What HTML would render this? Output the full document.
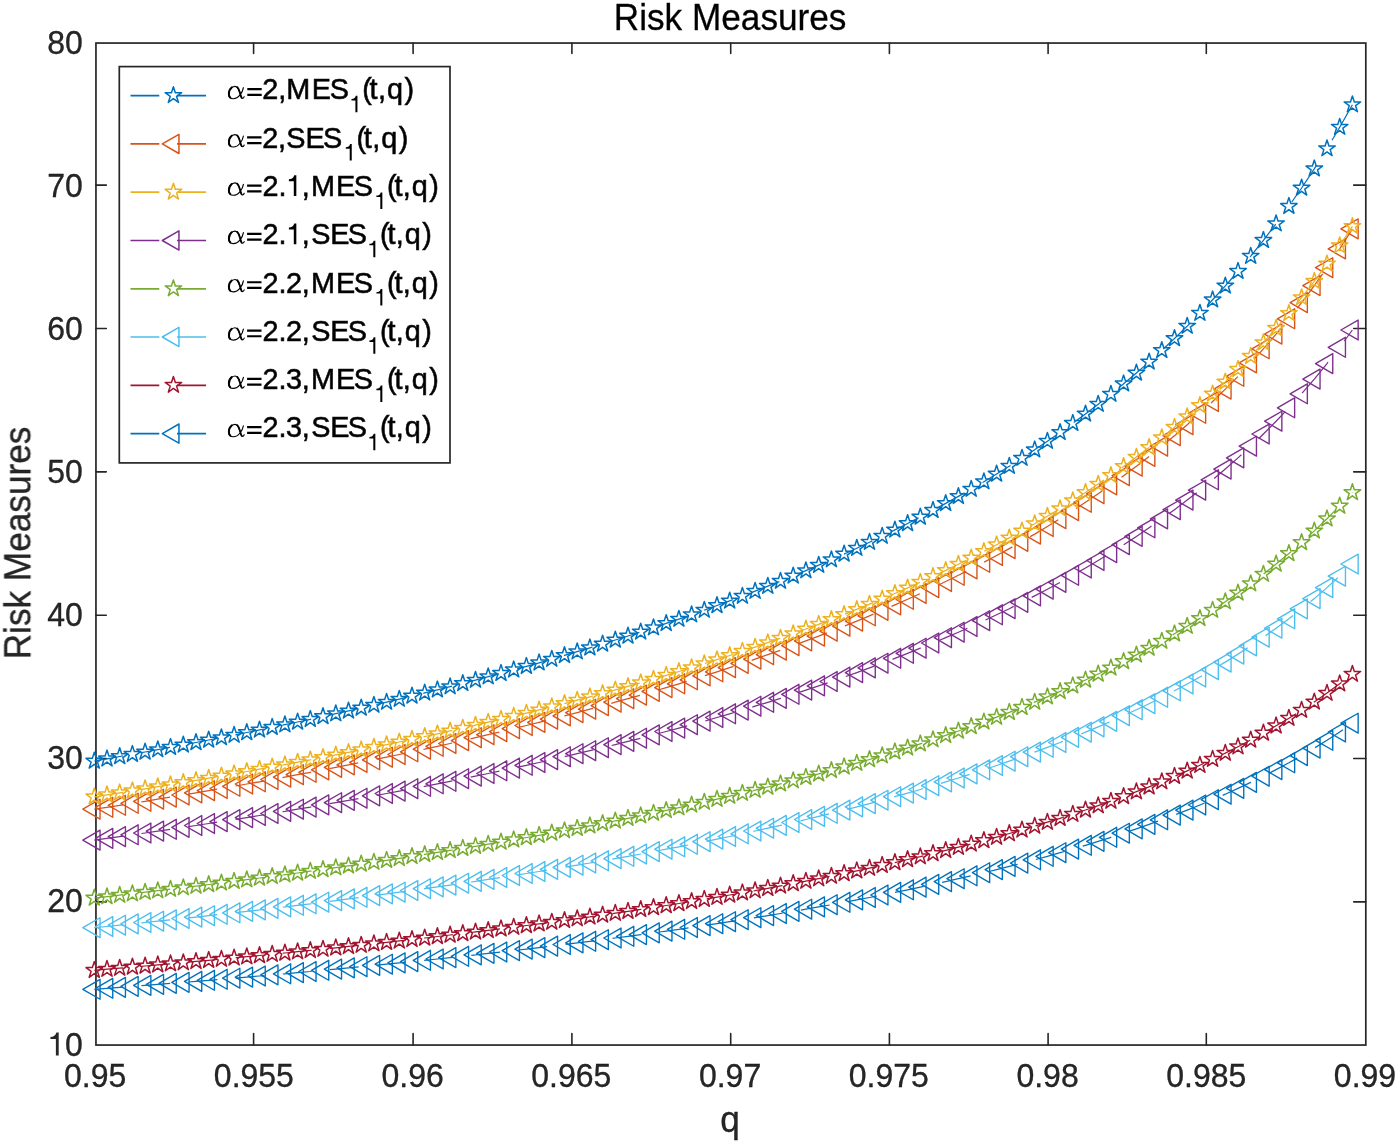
<!DOCTYPE html>
<html><head><meta charset="utf-8"><title>Risk Measures</title>
<style>html,body{margin:0;padding:0;background:#fff;}body{width:1400px;height:1144px;overflow:hidden;}svg{display:block;}text{font-family:"Liberation Sans",sans-serif;}</style>
</head><body>
<svg width="1400" height="1144" viewBox="0 0 1400 1144">
<defs>
<path id="st" d="M0.00 -8.70 L1.95 -2.69 L8.27 -2.69 L3.16 1.03 L5.11 7.04 L0.00 3.32 L-5.11 7.04 L-3.16 1.03 L-8.27 -2.69 L-1.95 -2.69Z" fill="none" stroke-width="1.50" stroke-linejoin="round"/>
<path id="tr" d="M-11.50 0 L5.75 -9.96 L5.75 9.96 Z" fill="none" stroke-width="1.38" stroke-linejoin="round"/>
<path id="trl" d="M-11.10 0 L5.55 -9.61 L5.55 9.61 Z" fill="none" stroke-width="1.50" stroke-linejoin="round"/>
</defs>
<rect x="0" y="0" width="1400" height="1144" fill="#fff"/>
<g stroke="#262626" fill="none">
<rect x="95.95" y="43.05" width="1269.85" height="1002.00" stroke-width="1.70"/>
<path d="M253.60 1045.05V1033.50M253.60 43.05V53.40M413.10 1045.05V1033.50M413.10 43.05V53.40M571.90 1045.05V1033.50M571.90 43.05V53.40M730.70 1045.05V1033.50M730.70 43.05V53.40M889.40 1045.05V1033.50M889.40 43.05V53.40M1048.10 1045.05V1033.50M1048.10 43.05V53.40M1206.30 1045.05V1033.50M1206.30 43.05V53.40M95.95 901.86H106.30M1365.80 901.86H1353.70M95.95 758.52H106.30M1365.80 758.52H1353.70M95.95 615.18H106.30M1365.80 615.18H1353.70M95.95 471.84H106.30M1365.80 471.84H1353.70M95.95 328.50H106.30M1365.80 328.50H1353.70M95.95 185.16H106.30M1365.80 185.16H1353.70" stroke-width="1.6" stroke-linecap="round"/>
</g>
<g stroke="#0072BD">
<path fill="none" stroke-width="1.25" stroke-linecap="butt" d="M94.3 761.0L107.0 758.8L119.7 756.5L123.0 755.9M141.3 752.7L145.1 752.0L157.8 749.6L170.1 747.4M188.4 743.9L196.0 742.5L208.7 740.0L217.1 738.4M235.4 734.8L246.8 732.5L259.5 729.9L264.1 729.0M282.4 725.2L284.9 724.7L297.6 722.0L310.3 719.3L311.1 719.1M329.4 715.1L335.8 713.7L348.5 710.9L358.1 708.7M376.3 704.5L386.6 702.1L399.3 699.1L405.0 697.7M423.3 693.3L424.7 692.9L437.4 689.8L450.1 686.6L452.0 686.1M470.2 681.4L475.5 680.1L488.2 676.7L498.9 673.9M517.1 668.9L526.4 666.3L539.1 662.8L545.7 660.9M564.0 655.6L564.5 655.4L577.2 651.7L589.9 647.8L592.6 647.0M610.8 641.4L615.3 640.0L628.0 636.0L639.4 632.3M657.6 626.3L666.2 623.4L678.9 619.1L686.1 616.6M704.3 610.2L704.3 610.1L717.0 605.5L729.7 600.9L732.8 599.7M750.9 592.8L755.1 591.2L767.8 586.2L779.4 581.6M797.5 574.2L805.9 570.6L818.7 565.2L825.9 562.0M844.0 554.0L844.1 554.0L856.8 548.2L869.5 542.2L872.3 540.9M890.3 532.2L894.9 529.9L907.6 523.5L918.5 517.9M936.5 508.4L945.7 503.4L958.4 496.4L964.6 492.9M982.5 482.5L983.9 481.7L996.6 474.0L1009.3 466.2L1010.5 465.4M1028.3 454.0L1034.7 449.8L1047.4 441.2L1056.1 435.2M1073.7 422.6L1085.5 413.9L1098.2 404.2L1101.3 401.8M1118.8 387.8L1123.6 383.8L1136.4 373.0L1146.0 364.6M1163.3 349.0L1174.5 338.5L1187.2 326.1L1190.2 323.1M1207.1 305.6L1212.6 299.8L1225.3 285.9L1233.5 276.5M1250.1 256.9L1250.7 256.2L1263.4 240.3L1275.7 224.2M1291.8 202.0L1301.6 188.0L1314.3 168.8L1316.5 165.2M1332.0 140.2L1339.7 127.2L1352.4 104.7"/>
<use href="#st" x="94.3" y="761.0"/>
<use href="#st" x="107.0" y="758.8"/>
<use href="#st" x="119.7" y="756.5"/>
<use href="#st" x="132.4" y="754.3"/>
<use href="#st" x="145.1" y="752.0"/>
<use href="#st" x="157.8" y="749.6"/>
<use href="#st" x="170.5" y="747.3"/>
<use href="#st" x="183.3" y="744.9"/>
<use href="#st" x="196.0" y="742.5"/>
<use href="#st" x="208.7" y="740.0"/>
<use href="#st" x="221.4" y="737.6"/>
<use href="#st" x="234.1" y="735.1"/>
<use href="#st" x="246.8" y="732.5"/>
<use href="#st" x="259.5" y="729.9"/>
<use href="#st" x="272.2" y="727.3"/>
<use href="#st" x="284.9" y="724.7"/>
<use href="#st" x="297.6" y="722.0"/>
<use href="#st" x="310.3" y="719.3"/>
<use href="#st" x="323.0" y="716.5"/>
<use href="#st" x="335.8" y="713.7"/>
<use href="#st" x="348.5" y="710.9"/>
<use href="#st" x="361.2" y="708.0"/>
<use href="#st" x="373.9" y="705.1"/>
<use href="#st" x="386.6" y="702.1"/>
<use href="#st" x="399.3" y="699.1"/>
<use href="#st" x="412.0" y="696.0"/>
<use href="#st" x="424.7" y="692.9"/>
<use href="#st" x="437.4" y="689.8"/>
<use href="#st" x="450.1" y="686.6"/>
<use href="#st" x="462.8" y="683.4"/>
<use href="#st" x="475.5" y="680.1"/>
<use href="#st" x="488.2" y="676.7"/>
<use href="#st" x="501.0" y="673.3"/>
<use href="#st" x="513.7" y="669.8"/>
<use href="#st" x="526.4" y="666.3"/>
<use href="#st" x="539.1" y="662.8"/>
<use href="#st" x="551.8" y="659.1"/>
<use href="#st" x="564.5" y="655.4"/>
<use href="#st" x="577.2" y="651.7"/>
<use href="#st" x="589.9" y="647.8"/>
<use href="#st" x="602.6" y="644.0"/>
<use href="#st" x="615.3" y="640.0"/>
<use href="#st" x="628.0" y="636.0"/>
<use href="#st" x="640.7" y="631.9"/>
<use href="#st" x="653.5" y="627.7"/>
<use href="#st" x="666.2" y="623.4"/>
<use href="#st" x="678.9" y="619.1"/>
<use href="#st" x="691.6" y="614.7"/>
<use href="#st" x="704.3" y="610.1"/>
<use href="#st" x="717.0" y="605.5"/>
<use href="#st" x="729.7" y="600.9"/>
<use href="#st" x="742.4" y="596.1"/>
<use href="#st" x="755.1" y="591.2"/>
<use href="#st" x="767.8" y="586.2"/>
<use href="#st" x="780.5" y="581.1"/>
<use href="#st" x="793.2" y="575.9"/>
<use href="#st" x="805.9" y="570.6"/>
<use href="#st" x="818.7" y="565.2"/>
<use href="#st" x="831.4" y="559.6"/>
<use href="#st" x="844.1" y="554.0"/>
<use href="#st" x="856.8" y="548.2"/>
<use href="#st" x="869.5" y="542.2"/>
<use href="#st" x="882.2" y="536.1"/>
<use href="#st" x="894.9" y="529.9"/>
<use href="#st" x="907.6" y="523.5"/>
<use href="#st" x="920.3" y="517.0"/>
<use href="#st" x="933.0" y="510.3"/>
<use href="#st" x="945.7" y="503.4"/>
<use href="#st" x="958.4" y="496.4"/>
<use href="#st" x="971.2" y="489.1"/>
<use href="#st" x="983.9" y="481.7"/>
<use href="#st" x="996.6" y="474.0"/>
<use href="#st" x="1009.3" y="466.2"/>
<use href="#st" x="1022.0" y="458.1"/>
<use href="#st" x="1034.7" y="449.8"/>
<use href="#st" x="1047.4" y="441.2"/>
<use href="#st" x="1060.1" y="432.4"/>
<use href="#st" x="1072.8" y="423.3"/>
<use href="#st" x="1085.5" y="413.9"/>
<use href="#st" x="1098.2" y="404.2"/>
<use href="#st" x="1110.9" y="394.1"/>
<use href="#st" x="1123.6" y="383.8"/>
<use href="#st" x="1136.4" y="373.0"/>
<use href="#st" x="1149.1" y="361.9"/>
<use href="#st" x="1161.8" y="350.4"/>
<use href="#st" x="1174.5" y="338.5"/>
<use href="#st" x="1187.2" y="326.1"/>
<use href="#st" x="1199.9" y="313.2"/>
<use href="#st" x="1212.6" y="299.8"/>
<use href="#st" x="1225.3" y="285.9"/>
<use href="#st" x="1238.0" y="271.3"/>
<use href="#st" x="1250.7" y="256.2"/>
<use href="#st" x="1263.4" y="240.3"/>
<use href="#st" x="1276.1" y="223.7"/>
<use href="#st" x="1288.9" y="206.3"/>
<use href="#st" x="1301.6" y="188.0"/>
<use href="#st" x="1314.3" y="168.8"/>
<use href="#st" x="1327.0" y="148.6"/>
<use href="#st" x="1339.7" y="127.2"/>
<use href="#st" x="1352.4" y="104.7"/>
</g>
<g stroke="#D95319">
<path fill="none" stroke-width="1.25" stroke-linecap="butt" d="M94.3 809.2L107.0 807.3L119.7 805.3L123.0 804.8M141.4 801.9L145.1 801.3L157.8 799.2L170.1 797.2M188.4 794.1L196.0 792.9L208.7 790.7L217.2 789.2M235.5 786.0L246.8 784.0L259.5 781.8L264.2 780.9M282.5 777.6L284.9 777.1L297.6 774.7L310.3 772.3L311.2 772.2M329.5 768.6L335.8 767.4L348.5 764.9L358.2 762.9M376.5 759.2L386.6 757.2L399.3 754.5L405.2 753.2M423.5 749.3L424.7 749.1L437.4 746.3L450.1 743.5L452.2 743.0M470.5 738.8L475.5 737.7L488.2 734.7L499.2 732.1M517.5 727.7L526.4 725.5L539.1 722.4L546.1 720.6M564.4 715.9L564.5 715.9L577.2 712.6L589.9 709.2L593.0 708.3M611.3 703.4L615.3 702.2L628.0 698.7L639.9 695.3M658.1 690.0L666.2 687.6L678.9 683.8L686.7 681.3M704.9 675.6L717.0 671.8L729.7 667.6L733.5 666.4M751.7 660.3L755.1 659.1L767.8 654.7L780.2 650.3M798.4 643.7L805.9 640.9L818.7 636.1L826.9 632.9M845.0 625.8L856.8 621.1L869.5 615.8L873.4 614.1M891.5 606.4L894.9 604.9L907.6 599.3L919.9 593.7M937.9 585.2L945.7 581.5L958.4 575.3L966.2 571.4M984.2 562.1L996.6 555.5L1009.3 548.6L1012.3 546.9M1030.2 536.6L1034.7 534.1L1047.4 526.5L1058.2 519.8M1076.0 508.5L1085.5 502.3L1098.2 493.7L1103.8 489.8M1121.5 477.3L1123.6 475.7L1136.4 466.2L1149.0 456.4M1166.5 442.3L1174.5 435.7L1187.2 424.7L1193.7 418.8M1211.0 403.0L1212.6 401.5L1225.3 389.1L1237.8 376.6M1254.6 358.5L1263.4 348.8L1276.1 334.1L1280.8 328.5M1297.3 308.1L1301.6 302.6L1314.3 285.6L1322.6 273.9M1338.4 250.7L1339.7 248.9L1352.4 228.9"/>
<use href="#tr" x="94.3" y="809.2"/>
<use href="#tr" x="107.0" y="807.3"/>
<use href="#tr" x="119.7" y="805.3"/>
<use href="#tr" x="132.4" y="803.3"/>
<use href="#tr" x="145.1" y="801.3"/>
<use href="#tr" x="157.8" y="799.2"/>
<use href="#tr" x="170.5" y="797.1"/>
<use href="#tr" x="183.3" y="795.0"/>
<use href="#tr" x="196.0" y="792.9"/>
<use href="#tr" x="208.7" y="790.7"/>
<use href="#tr" x="221.4" y="788.5"/>
<use href="#tr" x="234.1" y="786.3"/>
<use href="#tr" x="246.8" y="784.0"/>
<use href="#tr" x="259.5" y="781.8"/>
<use href="#tr" x="272.2" y="779.5"/>
<use href="#tr" x="284.9" y="777.1"/>
<use href="#tr" x="297.6" y="774.7"/>
<use href="#tr" x="310.3" y="772.3"/>
<use href="#tr" x="323.0" y="769.9"/>
<use href="#tr" x="335.8" y="767.4"/>
<use href="#tr" x="348.5" y="764.9"/>
<use href="#tr" x="361.2" y="762.4"/>
<use href="#tr" x="373.9" y="759.8"/>
<use href="#tr" x="386.6" y="757.2"/>
<use href="#tr" x="399.3" y="754.5"/>
<use href="#tr" x="412.0" y="751.8"/>
<use href="#tr" x="424.7" y="749.1"/>
<use href="#tr" x="437.4" y="746.3"/>
<use href="#tr" x="450.1" y="743.5"/>
<use href="#tr" x="462.8" y="740.6"/>
<use href="#tr" x="475.5" y="737.7"/>
<use href="#tr" x="488.2" y="734.7"/>
<use href="#tr" x="501.0" y="731.7"/>
<use href="#tr" x="513.7" y="728.6"/>
<use href="#tr" x="526.4" y="725.5"/>
<use href="#tr" x="539.1" y="722.4"/>
<use href="#tr" x="551.8" y="719.2"/>
<use href="#tr" x="564.5" y="715.9"/>
<use href="#tr" x="577.2" y="712.6"/>
<use href="#tr" x="589.9" y="709.2"/>
<use href="#tr" x="602.6" y="705.7"/>
<use href="#tr" x="615.3" y="702.2"/>
<use href="#tr" x="628.0" y="698.7"/>
<use href="#tr" x="640.7" y="695.1"/>
<use href="#tr" x="653.5" y="691.4"/>
<use href="#tr" x="666.2" y="687.6"/>
<use href="#tr" x="678.9" y="683.8"/>
<use href="#tr" x="691.6" y="679.8"/>
<use href="#tr" x="704.3" y="675.9"/>
<use href="#tr" x="717.0" y="671.8"/>
<use href="#tr" x="729.7" y="667.6"/>
<use href="#tr" x="742.4" y="663.4"/>
<use href="#tr" x="755.1" y="659.1"/>
<use href="#tr" x="767.8" y="654.7"/>
<use href="#tr" x="780.5" y="650.2"/>
<use href="#tr" x="793.2" y="645.6"/>
<use href="#tr" x="805.9" y="640.9"/>
<use href="#tr" x="818.7" y="636.1"/>
<use href="#tr" x="831.4" y="631.2"/>
<use href="#tr" x="844.1" y="626.2"/>
<use href="#tr" x="856.8" y="621.1"/>
<use href="#tr" x="869.5" y="615.8"/>
<use href="#tr" x="882.2" y="610.4"/>
<use href="#tr" x="894.9" y="604.9"/>
<use href="#tr" x="907.6" y="599.3"/>
<use href="#tr" x="920.3" y="593.5"/>
<use href="#tr" x="933.0" y="587.6"/>
<use href="#tr" x="945.7" y="581.5"/>
<use href="#tr" x="958.4" y="575.3"/>
<use href="#tr" x="971.2" y="568.9"/>
<use href="#tr" x="983.9" y="562.3"/>
<use href="#tr" x="996.6" y="555.5"/>
<use href="#tr" x="1009.3" y="548.6"/>
<use href="#tr" x="1022.0" y="541.4"/>
<use href="#tr" x="1034.7" y="534.1"/>
<use href="#tr" x="1047.4" y="526.5"/>
<use href="#tr" x="1060.1" y="518.7"/>
<use href="#tr" x="1072.8" y="510.6"/>
<use href="#tr" x="1085.5" y="502.3"/>
<use href="#tr" x="1098.2" y="493.7"/>
<use href="#tr" x="1110.9" y="484.9"/>
<use href="#tr" x="1123.6" y="475.7"/>
<use href="#tr" x="1136.4" y="466.2"/>
<use href="#tr" x="1149.1" y="456.4"/>
<use href="#tr" x="1161.8" y="446.2"/>
<use href="#tr" x="1174.5" y="435.7"/>
<use href="#tr" x="1187.2" y="424.7"/>
<use href="#tr" x="1199.9" y="413.3"/>
<use href="#tr" x="1212.6" y="401.5"/>
<use href="#tr" x="1225.3" y="389.1"/>
<use href="#tr" x="1238.0" y="376.3"/>
<use href="#tr" x="1250.7" y="362.9"/>
<use href="#tr" x="1263.4" y="348.8"/>
<use href="#tr" x="1276.1" y="334.1"/>
<use href="#tr" x="1288.9" y="318.8"/>
<use href="#tr" x="1301.6" y="302.6"/>
<use href="#tr" x="1314.3" y="285.6"/>
<use href="#tr" x="1327.0" y="267.7"/>
<use href="#tr" x="1339.7" y="248.9"/>
<use href="#tr" x="1352.4" y="228.9"/>
</g>
<g stroke="#EDB120">
<path fill="none" stroke-width="1.25" stroke-linecap="butt" d="M94.3 796.8L107.0 794.8L119.7 792.8L123.0 792.3M141.4 789.4L145.1 788.8L157.8 786.7L170.1 784.7M188.4 781.6L196.0 780.4L208.7 778.2L217.2 776.7M235.5 773.5L246.8 771.5L259.5 769.2L264.2 768.4M282.5 765.0L284.9 764.6L297.6 762.2L310.3 759.8L311.2 759.6M329.5 756.1L335.8 754.9L348.5 752.4L358.2 750.4M376.5 746.7L386.6 744.6L399.3 742.0L405.2 740.7M423.5 736.8L424.7 736.5L437.4 733.8L450.1 730.9L452.2 730.5M470.5 726.3L475.5 725.2L488.2 722.2L499.2 719.6M517.5 715.2L526.4 713.1L539.1 709.9L546.1 708.2M564.4 703.5L564.5 703.5L577.2 700.2L589.9 696.8L593.0 696.0M611.3 691.0L615.3 689.9L628.0 686.4L639.9 683.0M658.1 677.7L666.2 675.3L678.9 671.5L686.7 669.1M705.0 663.5L717.0 659.6L729.7 655.5L733.5 654.3M751.7 648.2L755.1 647.1L767.8 642.7L780.2 638.3M798.4 631.8L805.9 629.0L818.7 624.3L826.9 621.1M845.0 614.1L856.8 609.4L869.5 604.2L873.5 602.6M891.6 594.9L894.9 593.5L907.6 587.9L919.9 582.4M938.0 574.0L945.7 570.4L958.4 564.2L966.3 560.3M984.3 551.2L996.6 544.8L1009.3 537.9L1012.4 536.2M1030.3 526.1L1034.7 523.7L1047.4 516.2L1058.4 509.6M1076.2 498.5L1085.5 492.5L1098.2 484.1L1104.0 480.1M1121.7 467.8L1123.6 466.4L1136.4 457.1L1149.1 447.5L1149.3 447.3M1166.8 433.5L1174.5 427.3L1187.2 416.6L1194.1 410.5M1211.4 395.0L1212.6 393.9L1225.3 381.9L1238.0 369.3L1238.3 369.1M1255.2 351.4L1263.4 342.6L1276.1 328.3L1281.5 322.0M1298.0 302.1L1301.6 297.7L1314.3 281.3L1323.5 268.6M1339.5 245.9L1339.7 245.7L1352.4 226.4"/>
<use href="#st" x="94.3" y="796.8"/>
<use href="#st" x="107.0" y="794.8"/>
<use href="#st" x="119.7" y="792.8"/>
<use href="#st" x="132.4" y="790.8"/>
<use href="#st" x="145.1" y="788.8"/>
<use href="#st" x="157.8" y="786.7"/>
<use href="#st" x="170.5" y="784.6"/>
<use href="#st" x="183.3" y="782.5"/>
<use href="#st" x="196.0" y="780.4"/>
<use href="#st" x="208.7" y="778.2"/>
<use href="#st" x="221.4" y="776.0"/>
<use href="#st" x="234.1" y="773.8"/>
<use href="#st" x="246.8" y="771.5"/>
<use href="#st" x="259.5" y="769.2"/>
<use href="#st" x="272.2" y="766.9"/>
<use href="#st" x="284.9" y="764.6"/>
<use href="#st" x="297.6" y="762.2"/>
<use href="#st" x="310.3" y="759.8"/>
<use href="#st" x="323.0" y="757.4"/>
<use href="#st" x="335.8" y="754.9"/>
<use href="#st" x="348.5" y="752.4"/>
<use href="#st" x="361.2" y="749.8"/>
<use href="#st" x="373.9" y="747.2"/>
<use href="#st" x="386.6" y="744.6"/>
<use href="#st" x="399.3" y="742.0"/>
<use href="#st" x="412.0" y="739.3"/>
<use href="#st" x="424.7" y="736.5"/>
<use href="#st" x="437.4" y="733.8"/>
<use href="#st" x="450.1" y="730.9"/>
<use href="#st" x="462.8" y="728.1"/>
<use href="#st" x="475.5" y="725.2"/>
<use href="#st" x="488.2" y="722.2"/>
<use href="#st" x="501.0" y="719.2"/>
<use href="#st" x="513.7" y="716.2"/>
<use href="#st" x="526.4" y="713.1"/>
<use href="#st" x="539.1" y="709.9"/>
<use href="#st" x="551.8" y="706.7"/>
<use href="#st" x="564.5" y="703.5"/>
<use href="#st" x="577.2" y="700.2"/>
<use href="#st" x="589.9" y="696.8"/>
<use href="#st" x="602.6" y="693.4"/>
<use href="#st" x="615.3" y="689.9"/>
<use href="#st" x="628.0" y="686.4"/>
<use href="#st" x="640.7" y="682.7"/>
<use href="#st" x="653.5" y="679.1"/>
<use href="#st" x="666.2" y="675.3"/>
<use href="#st" x="678.9" y="671.5"/>
<use href="#st" x="691.6" y="667.6"/>
<use href="#st" x="704.3" y="663.7"/>
<use href="#st" x="717.0" y="659.6"/>
<use href="#st" x="729.7" y="655.5"/>
<use href="#st" x="742.4" y="651.3"/>
<use href="#st" x="755.1" y="647.1"/>
<use href="#st" x="767.8" y="642.7"/>
<use href="#st" x="780.5" y="638.2"/>
<use href="#st" x="793.2" y="633.7"/>
<use href="#st" x="805.9" y="629.0"/>
<use href="#st" x="818.7" y="624.3"/>
<use href="#st" x="831.4" y="619.4"/>
<use href="#st" x="844.1" y="614.5"/>
<use href="#st" x="856.8" y="609.4"/>
<use href="#st" x="869.5" y="604.2"/>
<use href="#st" x="882.2" y="598.9"/>
<use href="#st" x="894.9" y="593.5"/>
<use href="#st" x="907.6" y="587.9"/>
<use href="#st" x="920.3" y="582.2"/>
<use href="#st" x="933.0" y="576.4"/>
<use href="#st" x="945.7" y="570.4"/>
<use href="#st" x="958.4" y="564.2"/>
<use href="#st" x="971.2" y="557.9"/>
<use href="#st" x="983.9" y="551.4"/>
<use href="#st" x="996.6" y="544.8"/>
<use href="#st" x="1009.3" y="537.9"/>
<use href="#st" x="1022.0" y="530.9"/>
<use href="#st" x="1034.7" y="523.7"/>
<use href="#st" x="1047.4" y="516.2"/>
<use href="#st" x="1060.1" y="508.6"/>
<use href="#st" x="1072.8" y="500.6"/>
<use href="#st" x="1085.5" y="492.5"/>
<use href="#st" x="1098.2" y="484.1"/>
<use href="#st" x="1110.9" y="475.4"/>
<use href="#st" x="1123.6" y="466.4"/>
<use href="#st" x="1136.4" y="457.1"/>
<use href="#st" x="1149.1" y="447.5"/>
<use href="#st" x="1161.8" y="437.6"/>
<use href="#st" x="1174.5" y="427.3"/>
<use href="#st" x="1187.2" y="416.6"/>
<use href="#st" x="1199.9" y="405.5"/>
<use href="#st" x="1212.6" y="393.9"/>
<use href="#st" x="1225.3" y="381.9"/>
<use href="#st" x="1238.0" y="369.3"/>
<use href="#st" x="1250.7" y="356.3"/>
<use href="#st" x="1263.4" y="342.6"/>
<use href="#st" x="1276.1" y="328.3"/>
<use href="#st" x="1288.9" y="313.4"/>
<use href="#st" x="1301.6" y="297.7"/>
<use href="#st" x="1314.3" y="281.3"/>
<use href="#st" x="1327.0" y="263.9"/>
<use href="#st" x="1339.7" y="245.7"/>
<use href="#st" x="1352.4" y="226.4"/>
</g>
<g stroke="#7E2F8E">
<path fill="none" stroke-width="1.25" stroke-linecap="butt" d="M94.3 840.1L107.0 838.4L119.7 836.6L123.1 836.1M141.4 833.5L145.1 833.0L157.8 831.1L170.1 829.3M188.5 826.6L196.0 825.5L208.7 823.5L217.2 822.2M235.5 819.3L246.8 817.6L259.5 815.5L264.3 814.7M282.6 811.7L284.9 811.4L297.6 809.2L310.3 807.1L311.3 806.9M329.6 803.7L335.8 802.7L348.5 800.4L358.4 798.7M376.7 795.3L386.6 793.5L399.3 791.1L405.4 790.0M423.7 786.5L424.7 786.3L437.4 783.8L450.1 781.3L452.4 780.8M470.7 777.1L475.5 776.1L488.2 773.5L499.4 771.1M517.7 767.2L526.4 765.3L539.1 762.5L546.4 760.8M564.7 756.7L577.2 753.7L589.9 750.7L593.4 749.9M611.6 745.5L615.3 744.6L628.0 741.4L640.3 738.3M658.6 733.5L666.2 731.5L678.9 728.1L687.2 725.9M705.4 720.8L717.0 717.5L729.7 713.8L734.0 712.5M752.3 707.1L755.1 706.2L767.8 702.3L780.5 698.4L780.9 698.3M799.1 692.4L805.9 690.1L818.7 685.9L827.6 682.8M845.8 676.5L856.8 672.6L869.5 667.9L874.3 666.1M892.5 659.3L894.9 658.3L907.6 653.3L920.3 648.2L920.9 648.0M939.0 640.5L945.7 637.7L958.4 632.2L967.4 628.2M985.5 620.0L996.6 614.8L1009.3 608.7L1013.7 606.4M1031.7 597.4L1034.7 595.9L1047.4 589.2L1059.9 582.5M1077.8 572.4L1085.5 568.0L1098.2 560.5L1105.9 555.8M1123.7 544.7L1136.4 536.4L1149.1 527.8L1151.5 526.1M1169.1 513.6L1174.5 509.7L1187.2 500.1L1196.7 492.7M1214.2 478.5L1225.3 469.1L1238.0 457.9L1241.4 454.8M1258.6 438.7L1263.4 434.0L1276.1 421.2L1285.2 411.6M1302.1 393.2L1314.3 379.1L1327.0 363.6L1328.0 362.2M1344.3 341.0L1352.4 330.0"/>
<use href="#tr" x="94.3" y="840.1"/>
<use href="#tr" x="107.0" y="838.4"/>
<use href="#tr" x="119.7" y="836.6"/>
<use href="#tr" x="132.4" y="834.8"/>
<use href="#tr" x="145.1" y="833.0"/>
<use href="#tr" x="157.8" y="831.1"/>
<use href="#tr" x="170.5" y="829.3"/>
<use href="#tr" x="183.3" y="827.4"/>
<use href="#tr" x="196.0" y="825.5"/>
<use href="#tr" x="208.7" y="823.5"/>
<use href="#tr" x="221.4" y="821.6"/>
<use href="#tr" x="234.1" y="819.6"/>
<use href="#tr" x="246.8" y="817.6"/>
<use href="#tr" x="259.5" y="815.5"/>
<use href="#tr" x="272.2" y="813.5"/>
<use href="#tr" x="284.9" y="811.4"/>
<use href="#tr" x="297.6" y="809.2"/>
<use href="#tr" x="310.3" y="807.1"/>
<use href="#tr" x="323.0" y="804.9"/>
<use href="#tr" x="335.8" y="802.7"/>
<use href="#tr" x="348.5" y="800.4"/>
<use href="#tr" x="361.2" y="798.2"/>
<use href="#tr" x="373.9" y="795.9"/>
<use href="#tr" x="386.6" y="793.5"/>
<use href="#tr" x="399.3" y="791.1"/>
<use href="#tr" x="412.0" y="788.7"/>
<use href="#tr" x="424.7" y="786.3"/>
<use href="#tr" x="437.4" y="783.8"/>
<use href="#tr" x="450.1" y="781.3"/>
<use href="#tr" x="462.8" y="778.7"/>
<use href="#tr" x="475.5" y="776.1"/>
<use href="#tr" x="488.2" y="773.5"/>
<use href="#tr" x="501.0" y="770.8"/>
<use href="#tr" x="513.7" y="768.1"/>
<use href="#tr" x="526.4" y="765.3"/>
<use href="#tr" x="539.1" y="762.5"/>
<use href="#tr" x="551.8" y="759.6"/>
<use href="#tr" x="564.5" y="756.7"/>
<use href="#tr" x="577.2" y="753.7"/>
<use href="#tr" x="589.9" y="750.7"/>
<use href="#tr" x="602.6" y="747.7"/>
<use href="#tr" x="615.3" y="744.6"/>
<use href="#tr" x="628.0" y="741.4"/>
<use href="#tr" x="640.7" y="738.2"/>
<use href="#tr" x="653.5" y="734.9"/>
<use href="#tr" x="666.2" y="731.5"/>
<use href="#tr" x="678.9" y="728.1"/>
<use href="#tr" x="691.6" y="724.7"/>
<use href="#tr" x="704.3" y="721.1"/>
<use href="#tr" x="717.0" y="717.5"/>
<use href="#tr" x="729.7" y="713.8"/>
<use href="#tr" x="742.4" y="710.1"/>
<use href="#tr" x="755.1" y="706.2"/>
<use href="#tr" x="767.8" y="702.3"/>
<use href="#tr" x="780.5" y="698.4"/>
<use href="#tr" x="793.2" y="694.3"/>
<use href="#tr" x="805.9" y="690.1"/>
<use href="#tr" x="818.7" y="685.9"/>
<use href="#tr" x="831.4" y="681.5"/>
<use href="#tr" x="844.1" y="677.1"/>
<use href="#tr" x="856.8" y="672.6"/>
<use href="#tr" x="869.5" y="667.9"/>
<use href="#tr" x="882.2" y="663.2"/>
<use href="#tr" x="894.9" y="658.3"/>
<use href="#tr" x="907.6" y="653.3"/>
<use href="#tr" x="920.3" y="648.2"/>
<use href="#tr" x="933.0" y="643.0"/>
<use href="#tr" x="945.7" y="637.7"/>
<use href="#tr" x="958.4" y="632.2"/>
<use href="#tr" x="971.2" y="626.5"/>
<use href="#tr" x="983.9" y="620.7"/>
<use href="#tr" x="996.6" y="614.8"/>
<use href="#tr" x="1009.3" y="608.7"/>
<use href="#tr" x="1022.0" y="602.4"/>
<use href="#tr" x="1034.7" y="595.9"/>
<use href="#tr" x="1047.4" y="589.2"/>
<use href="#tr" x="1060.1" y="582.4"/>
<use href="#tr" x="1072.8" y="575.3"/>
<use href="#tr" x="1085.5" y="568.0"/>
<use href="#tr" x="1098.2" y="560.5"/>
<use href="#tr" x="1110.9" y="552.7"/>
<use href="#tr" x="1123.6" y="544.7"/>
<use href="#tr" x="1136.4" y="536.4"/>
<use href="#tr" x="1149.1" y="527.8"/>
<use href="#tr" x="1161.8" y="518.9"/>
<use href="#tr" x="1174.5" y="509.7"/>
<use href="#tr" x="1187.2" y="500.1"/>
<use href="#tr" x="1199.9" y="490.2"/>
<use href="#tr" x="1212.6" y="479.8"/>
<use href="#tr" x="1225.3" y="469.1"/>
<use href="#tr" x="1238.0" y="457.9"/>
<use href="#tr" x="1250.7" y="446.2"/>
<use href="#tr" x="1263.4" y="434.0"/>
<use href="#tr" x="1276.1" y="421.2"/>
<use href="#tr" x="1288.9" y="407.8"/>
<use href="#tr" x="1301.6" y="393.8"/>
<use href="#tr" x="1314.3" y="379.1"/>
<use href="#tr" x="1327.0" y="363.6"/>
<use href="#tr" x="1339.7" y="347.3"/>
<use href="#tr" x="1352.4" y="330.0"/>
</g>
<g stroke="#77AC30">
<path fill="none" stroke-width="1.25" stroke-linecap="butt" d="M94.3 898.0L107.0 896.6L119.7 895.1L123.1 894.7M141.4 892.6L145.1 892.2L157.8 890.7L170.2 889.2M188.5 887.0L196.0 886.1L208.7 884.5L217.3 883.4M235.6 881.1L246.8 879.7L259.5 878.0L264.4 877.4M282.7 875.0L284.9 874.7L297.6 873.0L310.3 871.2L311.5 871.1M329.8 868.5L335.8 867.7L348.5 865.9L358.6 864.4M376.9 861.7L386.6 860.3L399.3 858.4L405.6 857.4M424.0 854.6L424.7 854.4L437.4 852.4L450.1 850.4L452.7 850.0M471.0 847.0L475.5 846.3L488.2 844.1L499.8 842.2M518.1 839.0L526.4 837.5L539.1 835.3L546.8 833.9M565.1 830.5L577.2 828.3L589.9 825.8L593.8 825.1M612.1 821.5L615.3 820.9L628.0 818.3L640.7 815.7L640.8 815.7M659.1 811.9L666.2 810.4L678.9 807.7L687.8 805.7M706.1 801.6L717.0 799.2L729.7 796.2L734.8 795.0M753.1 790.6L755.1 790.2L767.8 787.0L780.5 783.8L781.7 783.5M800.0 778.8L805.9 777.3L818.7 773.9L828.6 771.1M846.9 766.0L856.8 763.2L869.5 759.5L875.5 757.7M893.7 752.2L894.9 751.8L907.6 747.9L920.3 743.8L922.3 743.2M940.5 737.1L945.7 735.4L958.4 731.0L969.0 727.2M987.2 720.6L996.6 717.1L1009.3 712.3L1015.6 709.8M1033.8 702.5L1034.7 702.1L1047.4 696.8L1060.1 691.4L1062.2 690.5M1080.2 682.4L1085.5 680.0L1098.2 674.0L1108.5 669.0M1126.5 660.0L1136.4 654.9L1149.1 648.1L1154.7 645.0M1172.6 634.9L1174.5 633.8L1187.2 626.2L1199.9 618.4L1200.6 617.9M1218.4 606.4L1225.3 601.7L1238.0 592.9L1246.1 587.0M1263.7 573.9L1276.1 564.0L1288.9 553.5L1291.1 551.6M1308.4 536.3L1314.3 530.9L1327.0 518.8L1335.3 510.4M1352.2 492.7L1352.4 492.5"/>
<use href="#st" x="94.3" y="898.0"/>
<use href="#st" x="107.0" y="896.6"/>
<use href="#st" x="119.7" y="895.1"/>
<use href="#st" x="132.4" y="893.7"/>
<use href="#st" x="145.1" y="892.2"/>
<use href="#st" x="157.8" y="890.7"/>
<use href="#st" x="170.5" y="889.2"/>
<use href="#st" x="183.3" y="887.6"/>
<use href="#st" x="196.0" y="886.1"/>
<use href="#st" x="208.7" y="884.5"/>
<use href="#st" x="221.4" y="882.9"/>
<use href="#st" x="234.1" y="881.3"/>
<use href="#st" x="246.8" y="879.7"/>
<use href="#st" x="259.5" y="878.0"/>
<use href="#st" x="272.2" y="876.4"/>
<use href="#st" x="284.9" y="874.7"/>
<use href="#st" x="297.6" y="873.0"/>
<use href="#st" x="310.3" y="871.2"/>
<use href="#st" x="323.0" y="869.5"/>
<use href="#st" x="335.8" y="867.7"/>
<use href="#st" x="348.5" y="865.9"/>
<use href="#st" x="361.2" y="864.0"/>
<use href="#st" x="373.9" y="862.2"/>
<use href="#st" x="386.6" y="860.3"/>
<use href="#st" x="399.3" y="858.4"/>
<use href="#st" x="412.0" y="856.4"/>
<use href="#st" x="424.7" y="854.4"/>
<use href="#st" x="437.4" y="852.4"/>
<use href="#st" x="450.1" y="850.4"/>
<use href="#st" x="462.8" y="848.3"/>
<use href="#st" x="475.5" y="846.3"/>
<use href="#st" x="488.2" y="844.1"/>
<use href="#st" x="501.0" y="842.0"/>
<use href="#st" x="513.7" y="839.8"/>
<use href="#st" x="526.4" y="837.5"/>
<use href="#st" x="539.1" y="835.3"/>
<use href="#st" x="551.8" y="833.0"/>
<use href="#st" x="564.5" y="830.6"/>
<use href="#st" x="577.2" y="828.3"/>
<use href="#st" x="589.9" y="825.8"/>
<use href="#st" x="602.6" y="823.4"/>
<use href="#st" x="615.3" y="820.9"/>
<use href="#st" x="628.0" y="818.3"/>
<use href="#st" x="640.7" y="815.7"/>
<use href="#st" x="653.5" y="813.1"/>
<use href="#st" x="666.2" y="810.4"/>
<use href="#st" x="678.9" y="807.7"/>
<use href="#st" x="691.6" y="804.9"/>
<use href="#st" x="704.3" y="802.1"/>
<use href="#st" x="717.0" y="799.2"/>
<use href="#st" x="729.7" y="796.2"/>
<use href="#st" x="742.4" y="793.2"/>
<use href="#st" x="755.1" y="790.2"/>
<use href="#st" x="767.8" y="787.0"/>
<use href="#st" x="780.5" y="783.8"/>
<use href="#st" x="793.2" y="780.6"/>
<use href="#st" x="805.9" y="777.3"/>
<use href="#st" x="818.7" y="773.9"/>
<use href="#st" x="831.4" y="770.4"/>
<use href="#st" x="844.1" y="766.8"/>
<use href="#st" x="856.8" y="763.2"/>
<use href="#st" x="869.5" y="759.5"/>
<use href="#st" x="882.2" y="755.7"/>
<use href="#st" x="894.9" y="751.8"/>
<use href="#st" x="907.6" y="747.9"/>
<use href="#st" x="920.3" y="743.8"/>
<use href="#st" x="933.0" y="739.6"/>
<use href="#st" x="945.7" y="735.4"/>
<use href="#st" x="958.4" y="731.0"/>
<use href="#st" x="971.2" y="726.5"/>
<use href="#st" x="983.9" y="721.9"/>
<use href="#st" x="996.6" y="717.1"/>
<use href="#st" x="1009.3" y="712.3"/>
<use href="#st" x="1022.0" y="707.3"/>
<use href="#st" x="1034.7" y="702.1"/>
<use href="#st" x="1047.4" y="696.8"/>
<use href="#st" x="1060.1" y="691.4"/>
<use href="#st" x="1072.8" y="685.8"/>
<use href="#st" x="1085.5" y="680.0"/>
<use href="#st" x="1098.2" y="674.0"/>
<use href="#st" x="1110.9" y="667.9"/>
<use href="#st" x="1123.6" y="661.5"/>
<use href="#st" x="1136.4" y="654.9"/>
<use href="#st" x="1149.1" y="648.1"/>
<use href="#st" x="1161.8" y="641.1"/>
<use href="#st" x="1174.5" y="633.8"/>
<use href="#st" x="1187.2" y="626.2"/>
<use href="#st" x="1199.9" y="618.4"/>
<use href="#st" x="1212.6" y="610.2"/>
<use href="#st" x="1225.3" y="601.7"/>
<use href="#st" x="1238.0" y="592.9"/>
<use href="#st" x="1250.7" y="583.7"/>
<use href="#st" x="1263.4" y="574.1"/>
<use href="#st" x="1276.1" y="564.0"/>
<use href="#st" x="1288.9" y="553.5"/>
<use href="#st" x="1301.6" y="542.5"/>
<use href="#st" x="1314.3" y="530.9"/>
<use href="#st" x="1327.0" y="518.8"/>
<use href="#st" x="1339.7" y="506.0"/>
<use href="#st" x="1352.4" y="492.5"/>
</g>
<g stroke="#4DBEEE">
<path fill="none" stroke-width="1.25" stroke-linecap="butt" d="M94.3 927.7L107.0 926.5L119.7 925.2L123.1 924.8M141.4 922.9L145.1 922.5L157.8 921.2L170.2 919.9M188.5 917.9L196.0 917.1L208.7 915.7L217.3 914.7M235.7 912.6L246.8 911.4L259.5 909.9L264.4 909.3M282.8 907.1L284.9 906.9L297.6 905.3L310.3 903.8L311.5 903.6M329.9 901.3L335.8 900.6L348.5 898.9L358.6 897.6M377.0 895.2L386.6 893.9L399.3 892.2L405.7 891.3M424.0 888.8L424.7 888.7L437.4 886.9L450.1 885.1L452.8 884.7M471.1 882.0L475.5 881.4L488.2 879.4L499.9 877.7M518.2 874.8L526.4 873.5L539.1 871.5L546.9 870.2M565.3 867.2L577.2 865.2L589.9 863.0L594.0 862.3M612.3 859.1L615.3 858.6L628.0 856.3L640.7 854.0L641.0 853.9M659.3 850.5L666.2 849.2L678.9 846.8L688.1 845.0M706.4 841.3L717.0 839.1L729.7 836.5L735.1 835.3M753.4 831.4L755.1 831.0L767.8 828.2L780.5 825.4L782.0 825.0M800.3 820.8L805.9 819.5L818.7 816.4L829.0 813.9M847.3 809.3L856.8 806.9L869.5 803.6L875.9 801.8M894.2 796.9L894.9 796.7L907.6 793.1L920.3 789.5L922.8 788.7M941.0 783.3L945.7 781.9L958.4 778.0L969.6 774.4M987.8 768.5L996.6 765.5L1009.3 761.2L1016.3 758.7M1034.5 752.2L1034.7 752.1L1047.4 747.3L1060.1 742.5L1063.0 741.3M1081.1 734.0L1085.5 732.2L1098.2 726.9L1109.5 722.0M1127.6 713.8L1136.4 709.8L1149.1 703.7L1155.8 700.3M1173.8 691.1L1174.5 690.8L1187.2 684.0L1199.9 677.0L1202.0 675.8M1219.8 665.3L1225.3 662.1L1238.0 654.1L1247.8 647.8M1265.5 635.8L1276.1 628.2L1288.9 618.8L1293.1 615.5M1310.6 601.5L1314.3 598.6L1327.0 587.6L1337.8 577.8"/>
<use href="#tr" x="94.3" y="927.7"/>
<use href="#tr" x="107.0" y="926.5"/>
<use href="#tr" x="119.7" y="925.2"/>
<use href="#tr" x="132.4" y="923.9"/>
<use href="#tr" x="145.1" y="922.5"/>
<use href="#tr" x="157.8" y="921.2"/>
<use href="#tr" x="170.5" y="919.9"/>
<use href="#tr" x="183.3" y="918.5"/>
<use href="#tr" x="196.0" y="917.1"/>
<use href="#tr" x="208.7" y="915.7"/>
<use href="#tr" x="221.4" y="914.3"/>
<use href="#tr" x="234.1" y="912.8"/>
<use href="#tr" x="246.8" y="911.4"/>
<use href="#tr" x="259.5" y="909.9"/>
<use href="#tr" x="272.2" y="908.4"/>
<use href="#tr" x="284.9" y="906.9"/>
<use href="#tr" x="297.6" y="905.3"/>
<use href="#tr" x="310.3" y="903.8"/>
<use href="#tr" x="323.0" y="902.2"/>
<use href="#tr" x="335.8" y="900.6"/>
<use href="#tr" x="348.5" y="898.9"/>
<use href="#tr" x="361.2" y="897.3"/>
<use href="#tr" x="373.9" y="895.6"/>
<use href="#tr" x="386.6" y="893.9"/>
<use href="#tr" x="399.3" y="892.2"/>
<use href="#tr" x="412.0" y="890.5"/>
<use href="#tr" x="424.7" y="888.7"/>
<use href="#tr" x="437.4" y="886.9"/>
<use href="#tr" x="450.1" y="885.1"/>
<use href="#tr" x="462.8" y="883.2"/>
<use href="#tr" x="475.5" y="881.4"/>
<use href="#tr" x="488.2" y="879.4"/>
<use href="#tr" x="501.0" y="877.5"/>
<use href="#tr" x="513.7" y="875.5"/>
<use href="#tr" x="526.4" y="873.5"/>
<use href="#tr" x="539.1" y="871.5"/>
<use href="#tr" x="551.8" y="869.4"/>
<use href="#tr" x="564.5" y="867.4"/>
<use href="#tr" x="577.2" y="865.2"/>
<use href="#tr" x="589.9" y="863.0"/>
<use href="#tr" x="602.6" y="860.8"/>
<use href="#tr" x="615.3" y="858.6"/>
<use href="#tr" x="628.0" y="856.3"/>
<use href="#tr" x="640.7" y="854.0"/>
<use href="#tr" x="653.5" y="851.6"/>
<use href="#tr" x="666.2" y="849.2"/>
<use href="#tr" x="678.9" y="846.8"/>
<use href="#tr" x="691.6" y="844.3"/>
<use href="#tr" x="704.3" y="841.7"/>
<use href="#tr" x="717.0" y="839.1"/>
<use href="#tr" x="729.7" y="836.5"/>
<use href="#tr" x="742.4" y="833.8"/>
<use href="#tr" x="755.1" y="831.0"/>
<use href="#tr" x="767.8" y="828.2"/>
<use href="#tr" x="780.5" y="825.4"/>
<use href="#tr" x="793.2" y="822.5"/>
<use href="#tr" x="805.9" y="819.5"/>
<use href="#tr" x="818.7" y="816.4"/>
<use href="#tr" x="831.4" y="813.3"/>
<use href="#tr" x="844.1" y="810.1"/>
<use href="#tr" x="856.8" y="806.9"/>
<use href="#tr" x="869.5" y="803.6"/>
<use href="#tr" x="882.2" y="800.2"/>
<use href="#tr" x="894.9" y="796.7"/>
<use href="#tr" x="907.6" y="793.1"/>
<use href="#tr" x="920.3" y="789.5"/>
<use href="#tr" x="933.0" y="785.7"/>
<use href="#tr" x="945.7" y="781.9"/>
<use href="#tr" x="958.4" y="778.0"/>
<use href="#tr" x="971.2" y="773.9"/>
<use href="#tr" x="983.9" y="769.8"/>
<use href="#tr" x="996.6" y="765.5"/>
<use href="#tr" x="1009.3" y="761.2"/>
<use href="#tr" x="1022.0" y="756.7"/>
<use href="#tr" x="1034.7" y="752.1"/>
<use href="#tr" x="1047.4" y="747.3"/>
<use href="#tr" x="1060.1" y="742.5"/>
<use href="#tr" x="1072.8" y="737.4"/>
<use href="#tr" x="1085.5" y="732.2"/>
<use href="#tr" x="1098.2" y="726.9"/>
<use href="#tr" x="1110.9" y="721.4"/>
<use href="#tr" x="1123.6" y="715.7"/>
<use href="#tr" x="1136.4" y="709.8"/>
<use href="#tr" x="1149.1" y="703.7"/>
<use href="#tr" x="1161.8" y="697.3"/>
<use href="#tr" x="1174.5" y="690.8"/>
<use href="#tr" x="1187.2" y="684.0"/>
<use href="#tr" x="1199.9" y="677.0"/>
<use href="#tr" x="1212.6" y="669.7"/>
<use href="#tr" x="1225.3" y="662.1"/>
<use href="#tr" x="1238.0" y="654.1"/>
<use href="#tr" x="1250.7" y="645.9"/>
<use href="#tr" x="1263.4" y="637.2"/>
<use href="#tr" x="1276.1" y="628.2"/>
<use href="#tr" x="1288.9" y="618.8"/>
<use href="#tr" x="1301.6" y="608.9"/>
<use href="#tr" x="1314.3" y="598.6"/>
<use href="#tr" x="1327.0" y="587.6"/>
<use href="#tr" x="1339.7" y="576.2"/>
<use href="#tr" x="1352.4" y="564.0"/>
</g>
<g stroke="#A2142F">
<path fill="none" stroke-width="1.25" stroke-linecap="butt" d="M94.3 970.3L107.0 969.2L119.7 968.1L123.1 967.8M141.4 966.3L145.1 966.0L157.8 964.8L170.2 963.8M188.6 962.1L196.0 961.4L208.7 960.3L217.3 959.5M235.7 957.7L246.8 956.7L259.5 955.5L264.5 955.0M282.8 953.2L284.9 953.0L297.6 951.7L310.3 950.4L311.6 950.3M329.9 948.4L335.8 947.8L348.5 946.4L358.7 945.3M377.1 943.4L386.6 942.3L399.3 940.9L405.8 940.1M424.2 938.1L424.7 938.0L437.4 936.5L450.1 935.0L452.9 934.7M471.3 932.5L475.5 931.9L488.2 930.4L500.0 928.9M518.4 926.5L526.4 925.5L539.1 923.8L547.1 922.8M565.5 920.3L577.2 918.6L589.9 916.9L594.2 916.2M612.6 913.6L615.3 913.2L628.0 911.3L640.7 909.4L641.3 909.3M659.6 906.5L666.2 905.5L678.9 903.5L688.4 901.9M706.7 898.9L717.0 897.2L729.7 895.0L735.4 894.1M753.7 890.8L755.1 890.6L767.8 888.3L780.5 885.9L782.5 885.6M800.8 882.1L805.9 881.1L818.7 878.6L829.5 876.4M847.8 872.7L856.8 870.8L869.5 868.1L876.5 866.6M894.8 862.5L894.9 862.5L907.6 859.5L920.3 856.6L923.4 855.8M941.7 851.4L945.7 850.4L958.4 847.2L970.4 844.1M988.6 839.2L996.6 837.1L1009.3 833.5L1017.2 831.2M1035.5 825.9L1047.4 822.2L1060.1 818.3L1064.1 817.0M1082.3 811.0L1085.5 810.0L1098.2 805.6L1110.8 801.2M1129.0 794.5L1136.4 791.7L1149.1 786.8L1157.4 783.4M1175.5 775.9L1187.2 770.9L1199.9 765.2L1203.9 763.3M1221.9 754.7L1225.3 753.1L1238.0 746.7L1250.1 740.3M1268.1 730.4L1276.1 725.8L1288.9 718.2L1296.1 713.7M1313.8 702.1L1314.3 701.9L1327.0 693.1L1339.7 683.8L1341.5 682.4"/>
<use href="#st" x="94.3" y="970.3"/>
<use href="#st" x="107.0" y="969.2"/>
<use href="#st" x="119.7" y="968.1"/>
<use href="#st" x="132.4" y="967.0"/>
<use href="#st" x="145.1" y="966.0"/>
<use href="#st" x="157.8" y="964.8"/>
<use href="#st" x="170.5" y="963.7"/>
<use href="#st" x="183.3" y="962.6"/>
<use href="#st" x="196.0" y="961.4"/>
<use href="#st" x="208.7" y="960.3"/>
<use href="#st" x="221.4" y="959.1"/>
<use href="#st" x="234.1" y="957.9"/>
<use href="#st" x="246.8" y="956.7"/>
<use href="#st" x="259.5" y="955.5"/>
<use href="#st" x="272.2" y="954.2"/>
<use href="#st" x="284.9" y="953.0"/>
<use href="#st" x="297.6" y="951.7"/>
<use href="#st" x="310.3" y="950.4"/>
<use href="#st" x="323.0" y="949.1"/>
<use href="#st" x="335.8" y="947.8"/>
<use href="#st" x="348.5" y="946.4"/>
<use href="#st" x="361.2" y="945.1"/>
<use href="#st" x="373.9" y="943.7"/>
<use href="#st" x="386.6" y="942.3"/>
<use href="#st" x="399.3" y="940.9"/>
<use href="#st" x="412.0" y="939.4"/>
<use href="#st" x="424.7" y="938.0"/>
<use href="#st" x="437.4" y="936.5"/>
<use href="#st" x="450.1" y="935.0"/>
<use href="#st" x="462.8" y="933.5"/>
<use href="#st" x="475.5" y="931.9"/>
<use href="#st" x="488.2" y="930.4"/>
<use href="#st" x="501.0" y="928.8"/>
<use href="#st" x="513.7" y="927.1"/>
<use href="#st" x="526.4" y="925.5"/>
<use href="#st" x="539.1" y="923.8"/>
<use href="#st" x="551.8" y="922.1"/>
<use href="#st" x="564.5" y="920.4"/>
<use href="#st" x="577.2" y="918.6"/>
<use href="#st" x="589.9" y="916.9"/>
<use href="#st" x="602.6" y="915.0"/>
<use href="#st" x="615.3" y="913.2"/>
<use href="#st" x="628.0" y="911.3"/>
<use href="#st" x="640.7" y="909.4"/>
<use href="#st" x="653.5" y="907.5"/>
<use href="#st" x="666.2" y="905.5"/>
<use href="#st" x="678.9" y="903.5"/>
<use href="#st" x="691.6" y="901.4"/>
<use href="#st" x="704.3" y="899.3"/>
<use href="#st" x="717.0" y="897.2"/>
<use href="#st" x="729.7" y="895.0"/>
<use href="#st" x="742.4" y="892.8"/>
<use href="#st" x="755.1" y="890.6"/>
<use href="#st" x="767.8" y="888.3"/>
<use href="#st" x="780.5" y="885.9"/>
<use href="#st" x="793.2" y="883.5"/>
<use href="#st" x="805.9" y="881.1"/>
<use href="#st" x="818.7" y="878.6"/>
<use href="#st" x="831.4" y="876.1"/>
<use href="#st" x="844.1" y="873.5"/>
<use href="#st" x="856.8" y="870.8"/>
<use href="#st" x="869.5" y="868.1"/>
<use href="#st" x="882.2" y="865.3"/>
<use href="#st" x="894.9" y="862.5"/>
<use href="#st" x="907.6" y="859.5"/>
<use href="#st" x="920.3" y="856.6"/>
<use href="#st" x="933.0" y="853.5"/>
<use href="#st" x="945.7" y="850.4"/>
<use href="#st" x="958.4" y="847.2"/>
<use href="#st" x="971.2" y="843.9"/>
<use href="#st" x="983.9" y="840.5"/>
<use href="#st" x="996.6" y="837.1"/>
<use href="#st" x="1009.3" y="833.5"/>
<use href="#st" x="1022.0" y="829.9"/>
<use href="#st" x="1034.7" y="826.1"/>
<use href="#st" x="1047.4" y="822.2"/>
<use href="#st" x="1060.1" y="818.3"/>
<use href="#st" x="1072.8" y="814.2"/>
<use href="#st" x="1085.5" y="810.0"/>
<use href="#st" x="1098.2" y="805.6"/>
<use href="#st" x="1110.9" y="801.1"/>
<use href="#st" x="1123.6" y="796.5"/>
<use href="#st" x="1136.4" y="791.7"/>
<use href="#st" x="1149.1" y="786.8"/>
<use href="#st" x="1161.8" y="781.6"/>
<use href="#st" x="1174.5" y="776.3"/>
<use href="#st" x="1187.2" y="770.9"/>
<use href="#st" x="1199.9" y="765.2"/>
<use href="#st" x="1212.6" y="759.2"/>
<use href="#st" x="1225.3" y="753.1"/>
<use href="#st" x="1238.0" y="746.7"/>
<use href="#st" x="1250.7" y="740.0"/>
<use href="#st" x="1263.4" y="733.0"/>
<use href="#st" x="1276.1" y="725.8"/>
<use href="#st" x="1288.9" y="718.2"/>
<use href="#st" x="1301.6" y="710.2"/>
<use href="#st" x="1314.3" y="701.9"/>
<use href="#st" x="1327.0" y="693.1"/>
<use href="#st" x="1339.7" y="683.8"/>
<use href="#st" x="1352.4" y="674.1"/>
</g>
<g stroke="#0072BD">
<path fill="none" stroke-width="1.25" stroke-linecap="butt" d="M94.3 989.3L107.0 988.3L119.7 987.4L123.1 987.1M141.4 985.7L145.1 985.4L157.8 984.4L170.2 983.4M188.6 982.0L196.0 981.4L208.7 980.3L217.4 979.6M235.7 978.1L246.8 977.1L259.5 976.0L264.5 975.6M282.8 974.0L284.9 973.8L297.6 972.6L310.3 971.5L311.6 971.3M330.0 969.6L335.8 969.1L348.5 967.9L358.7 966.9M377.1 965.1L386.6 964.2L399.3 962.9L405.9 962.2M424.2 960.4L424.7 960.3L437.4 959.0L450.1 957.6L453.0 957.3M471.3 955.3L475.5 954.9L488.2 953.4L500.1 952.1M518.4 950.0L526.4 949.1L539.1 947.6L547.2 946.6M565.6 944.4L577.2 942.9L589.9 941.3L594.3 940.8M612.6 938.4L615.3 938.0L628.0 936.3L640.7 934.6L641.4 934.5M659.7 932.0L666.2 931.1L678.9 929.3L688.5 927.9M706.8 925.2L717.0 923.7L729.7 921.7L735.6 920.8M753.9 917.9L755.1 917.7L767.8 915.6L780.5 913.5L782.6 913.2M800.9 910.1L805.9 909.2L818.7 906.9L829.7 905.0M848.0 901.6L856.8 899.9L869.5 897.5L876.7 896.1M895.0 892.4L907.6 889.8L920.3 887.1L923.7 886.4M942.0 882.4L945.7 881.6L958.4 878.7L970.7 875.9M988.9 871.5L996.6 869.6L1009.3 866.4L1017.6 864.3M1035.9 859.5L1047.4 856.3L1060.1 852.7L1064.5 851.5M1082.7 846.1L1085.5 845.3L1098.2 841.4L1110.9 837.3L1111.3 837.2M1129.5 831.2L1136.4 828.9L1149.1 824.4L1158.0 821.2M1176.2 814.4L1187.2 810.1L1199.9 805.0L1204.6 803.0M1222.7 795.3L1225.3 794.2L1238.0 788.4L1250.7 782.4L1251.0 782.3M1269.0 773.3L1276.1 769.6L1288.9 762.8L1297.2 758.1M1315.1 747.6L1327.0 740.3L1339.7 732.0L1343.0 729.7"/>
<use href="#tr" x="94.3" y="989.3"/>
<use href="#tr" x="107.0" y="988.3"/>
<use href="#tr" x="119.7" y="987.4"/>
<use href="#tr" x="132.4" y="986.4"/>
<use href="#tr" x="145.1" y="985.4"/>
<use href="#tr" x="157.8" y="984.4"/>
<use href="#tr" x="170.5" y="983.4"/>
<use href="#tr" x="183.3" y="982.4"/>
<use href="#tr" x="196.0" y="981.4"/>
<use href="#tr" x="208.7" y="980.3"/>
<use href="#tr" x="221.4" y="979.3"/>
<use href="#tr" x="234.1" y="978.2"/>
<use href="#tr" x="246.8" y="977.1"/>
<use href="#tr" x="259.5" y="976.0"/>
<use href="#tr" x="272.2" y="974.9"/>
<use href="#tr" x="284.9" y="973.8"/>
<use href="#tr" x="297.6" y="972.6"/>
<use href="#tr" x="310.3" y="971.5"/>
<use href="#tr" x="323.0" y="970.3"/>
<use href="#tr" x="335.8" y="969.1"/>
<use href="#tr" x="348.5" y="967.9"/>
<use href="#tr" x="361.2" y="966.7"/>
<use href="#tr" x="373.9" y="965.4"/>
<use href="#tr" x="386.6" y="964.2"/>
<use href="#tr" x="399.3" y="962.9"/>
<use href="#tr" x="412.0" y="961.6"/>
<use href="#tr" x="424.7" y="960.3"/>
<use href="#tr" x="437.4" y="959.0"/>
<use href="#tr" x="450.1" y="957.6"/>
<use href="#tr" x="462.8" y="956.3"/>
<use href="#tr" x="475.5" y="954.9"/>
<use href="#tr" x="488.2" y="953.4"/>
<use href="#tr" x="501.0" y="952.0"/>
<use href="#tr" x="513.7" y="950.6"/>
<use href="#tr" x="526.4" y="949.1"/>
<use href="#tr" x="539.1" y="947.6"/>
<use href="#tr" x="551.8" y="946.1"/>
<use href="#tr" x="564.5" y="944.5"/>
<use href="#tr" x="577.2" y="942.9"/>
<use href="#tr" x="589.9" y="941.3"/>
<use href="#tr" x="602.6" y="939.7"/>
<use href="#tr" x="615.3" y="938.0"/>
<use href="#tr" x="628.0" y="936.3"/>
<use href="#tr" x="640.7" y="934.6"/>
<use href="#tr" x="653.5" y="932.9"/>
<use href="#tr" x="666.2" y="931.1"/>
<use href="#tr" x="678.9" y="929.3"/>
<use href="#tr" x="691.6" y="927.5"/>
<use href="#tr" x="704.3" y="925.6"/>
<use href="#tr" x="717.0" y="923.7"/>
<use href="#tr" x="729.7" y="921.7"/>
<use href="#tr" x="742.4" y="919.7"/>
<use href="#tr" x="755.1" y="917.7"/>
<use href="#tr" x="767.8" y="915.6"/>
<use href="#tr" x="780.5" y="913.5"/>
<use href="#tr" x="793.2" y="911.4"/>
<use href="#tr" x="805.9" y="909.2"/>
<use href="#tr" x="818.7" y="906.9"/>
<use href="#tr" x="831.4" y="904.7"/>
<use href="#tr" x="844.1" y="902.3"/>
<use href="#tr" x="856.8" y="899.9"/>
<use href="#tr" x="869.5" y="897.5"/>
<use href="#tr" x="882.2" y="895.0"/>
<use href="#tr" x="894.9" y="892.4"/>
<use href="#tr" x="907.6" y="889.8"/>
<use href="#tr" x="920.3" y="887.1"/>
<use href="#tr" x="933.0" y="884.4"/>
<use href="#tr" x="945.7" y="881.6"/>
<use href="#tr" x="958.4" y="878.7"/>
<use href="#tr" x="971.2" y="875.8"/>
<use href="#tr" x="983.9" y="872.7"/>
<use href="#tr" x="996.6" y="869.6"/>
<use href="#tr" x="1009.3" y="866.4"/>
<use href="#tr" x="1022.0" y="863.1"/>
<use href="#tr" x="1034.7" y="859.8"/>
<use href="#tr" x="1047.4" y="856.3"/>
<use href="#tr" x="1060.1" y="852.7"/>
<use href="#tr" x="1072.8" y="849.1"/>
<use href="#tr" x="1085.5" y="845.3"/>
<use href="#tr" x="1098.2" y="841.4"/>
<use href="#tr" x="1110.9" y="837.3"/>
<use href="#tr" x="1123.6" y="833.2"/>
<use href="#tr" x="1136.4" y="828.9"/>
<use href="#tr" x="1149.1" y="824.4"/>
<use href="#tr" x="1161.8" y="819.8"/>
<use href="#tr" x="1174.5" y="815.1"/>
<use href="#tr" x="1187.2" y="810.1"/>
<use href="#tr" x="1199.9" y="805.0"/>
<use href="#tr" x="1212.6" y="799.7"/>
<use href="#tr" x="1225.3" y="794.2"/>
<use href="#tr" x="1238.0" y="788.4"/>
<use href="#tr" x="1250.7" y="782.4"/>
<use href="#tr" x="1263.4" y="776.2"/>
<use href="#tr" x="1276.1" y="769.6"/>
<use href="#tr" x="1288.9" y="762.8"/>
<use href="#tr" x="1301.6" y="755.6"/>
<use href="#tr" x="1314.3" y="748.1"/>
<use href="#tr" x="1327.0" y="740.3"/>
<use href="#tr" x="1339.7" y="732.0"/>
<use href="#tr" x="1352.4" y="723.2"/>
</g>
<rect x="119.3" y="66.6" width="330.7" height="396.3" fill="#fff" stroke="#262626" stroke-width="1.70"/>
<g stroke="#0072BD">
<path d="M130.5 95.6H159.3M177 95.6H206" stroke-width="1.70" fill="none"/>
<use href="#st" x="173.4" y="95.4"/>
</g>
<g stroke="#D95319">
<path d="M130.5 143.9H159.3M177 143.9H206" stroke-width="1.70" fill="none"/>
<use href="#trl" x="173.4" y="143.9"/>
</g>
<g stroke="#EDB120">
<path d="M130.5 192.2H159.3M177 192.2H206" stroke-width="1.70" fill="none"/>
<use href="#st" x="173.4" y="192.0"/>
</g>
<g stroke="#7E2F8E">
<path d="M130.5 240.5H159.3M177 240.5H206" stroke-width="1.70" fill="none"/>
<use href="#trl" x="173.4" y="240.5"/>
</g>
<g stroke="#77AC30">
<path d="M130.5 288.8H159.3M177 288.8H206" stroke-width="1.70" fill="none"/>
<use href="#st" x="173.4" y="288.6"/>
</g>
<g stroke="#4DBEEE">
<path d="M130.5 337.0H159.3M177 337.0H206" stroke-width="1.70" fill="none"/>
<use href="#trl" x="173.4" y="337.0"/>
</g>
<g stroke="#A2142F">
<path d="M130.5 385.3H159.3M177 385.3H206" stroke-width="1.70" fill="none"/>
<use href="#st" x="173.4" y="385.1"/>
</g>
<g stroke="#0072BD">
<path d="M130.5 433.6H159.3M177 433.6H206" stroke-width="1.70" fill="none"/>
<use href="#trl" x="173.4" y="433.6"/>
</g>
<g style="filter:grayscale(1)" stroke="#111" stroke-width="0.3">
<text transform="translate(95.15 1086.90) scale(1 1.044)" font-size="32.00" fill="#262626" text-anchor="middle">0.95</text>
<text transform="translate(253.88 1086.90) scale(1 1.044)" font-size="32.00" fill="#262626" text-anchor="middle">0.955</text>
<text transform="translate(412.61 1086.90) scale(1 1.044)" font-size="32.00" fill="#262626" text-anchor="middle">0.96</text>
<text transform="translate(571.34 1086.90) scale(1 1.044)" font-size="32.00" fill="#262626" text-anchor="middle">0.965</text>
<text transform="translate(730.08 1086.90) scale(1 1.044)" font-size="32.00" fill="#262626" text-anchor="middle">0.97</text>
<text transform="translate(888.81 1086.90) scale(1 1.044)" font-size="32.00" fill="#262626" text-anchor="middle">0.975</text>
<text transform="translate(1047.54 1086.90) scale(1 1.044)" font-size="32.00" fill="#262626" text-anchor="middle">0.98</text>
<text transform="translate(1206.27 1086.90) scale(1 1.044)" font-size="32.00" fill="#262626" text-anchor="middle">0.985</text>
<text transform="translate(1365.00 1086.90) scale(1 1.044)" font-size="32.00" fill="#262626" text-anchor="middle">0.99</text>
<text transform="translate(82.80 54.10) scale(1 1.044)" font-size="32.00" fill="#262626" text-anchor="end">80</text>
<text transform="translate(82.80 197.16) scale(1 1.044)" font-size="32.00" fill="#262626" text-anchor="end">70</text>
<text transform="translate(82.80 340.22) scale(1 1.044)" font-size="32.00" fill="#262626" text-anchor="end">60</text>
<text transform="translate(82.80 483.28) scale(1 1.044)" font-size="32.00" fill="#262626" text-anchor="end">50</text>
<text transform="translate(82.80 626.34) scale(1 1.044)" font-size="32.00" fill="#262626" text-anchor="end">40</text>
<text transform="translate(82.80 769.40) scale(1 1.044)" font-size="32.00" fill="#262626" text-anchor="end">30</text>
<text transform="translate(82.80 912.46) scale(1 1.044)" font-size="32.00" fill="#262626" text-anchor="end">20</text>
<text transform="translate(82.80 1055.52) scale(1 1.044)" font-size="32.00" fill="#262626" text-anchor="end">0</text>
<path d="M359 0 L271 0 L271 505 L101 505 L101 567 C200 567 262 610 288 703 L359 703 Z" transform="translate(47.21 1055.52) scale(0.03200 -0.03264)" fill="#262626"/>
<text transform="translate(730.10 30.30) scale(1 1.044)" font-size="35.20" fill="#000" text-anchor="middle">Risk Measures</text>
<text transform="translate(730.00 1131.60) scale(1 1.044)" font-size="35.20" fill="#262626" text-anchor="middle">q</text>
<text transform="translate(30.8 543.0) rotate(-90) scale(1 1.044)" font-size="35.20" fill="#262626" text-anchor="middle">Risk Measures</text>
<g stroke-width="0.6">
<g transform="translate(227.7 99.40)" fill="none" stroke="#000" stroke-linecap="round" stroke-linejoin="round"><path d="M15.7,-11.7 C14.9,-7 11,-0.7 5.6,-0.7 C2.3,-0.7 1.0,-3 1.0,-5.5 C1.0,-9.5 3.9,-13.1 7.3,-13.1 C10.1,-13.1 11.3,-9.8 12.3,-6.4 C13.1,-3.4 13.6,-1.0 14.8,-1.0 C15.7,-1.0 16.2,-1.7 16.5,-2.7" stroke-width="1.15"/><path d="M2.6,-1.9 C1.5,-2.8 1.2,-4.2 1.2,-5.5 C1.2,-8 2.3,-10.6 4.0,-12.0" stroke-width="2.0"/><path d="M9.6,-12.3 C10.9,-11 11.6,-8.8 12.3,-6.4 C12.9,-4.2 13.3,-2.6 13.9,-1.6" stroke-width="1.8"/></g>
<path d="M247.30 89.10h14.4M247.30 94.80h14.4" stroke="#000" stroke-width="2.2" fill="none" stroke-linecap="butt"/>
<text transform="translate(262.15 99.40) scale(1 1.044)" font-size="28.80" fill="#000">2</text>
<text transform="translate(278.21 99.40) scale(1 1.044)" font-size="28.80" fill="#000">,</text>
<text transform="translate(286.24 99.40) scale(1 1.044)" font-size="28.80" fill="#000">M</text>
<text transform="translate(311.84 99.40) scale(1 1.044)" font-size="28.80" fill="#000">E</text>
<text transform="translate(329.79 99.40) scale(1 1.044)" font-size="28.80" fill="#000">S</text>
<path d="M359 0 L271 0 L271 505 L101 505 L101 567 C200 567 262 610 288 703 L359 703 Z" transform="translate(349.18 112.30) scale(0.02300 -0.02346)" fill="#000"/>
<text transform="translate(362.21 99.40) scale(1 1.044)" font-size="28.80" fill="#000">(</text>
<text transform="translate(369.56 99.40) scale(1 1.044)" font-size="28.80" fill="#000">t</text>
<text transform="translate(377.91 99.40) scale(1 1.044)" font-size="28.80" fill="#000">,</text>
<text transform="translate(386.89 99.40) scale(1 1.044)" font-size="28.80" fill="#000">q</text>
<text transform="translate(404.43 99.40) scale(1 1.044)" font-size="28.80" fill="#000">)</text>
<g transform="translate(227.7 147.69)" fill="none" stroke="#000" stroke-linecap="round" stroke-linejoin="round"><path d="M15.7,-11.7 C14.9,-7 11,-0.7 5.6,-0.7 C2.3,-0.7 1.0,-3 1.0,-5.5 C1.0,-9.5 3.9,-13.1 7.3,-13.1 C10.1,-13.1 11.3,-9.8 12.3,-6.4 C13.1,-3.4 13.6,-1.0 14.8,-1.0 C15.7,-1.0 16.2,-1.7 16.5,-2.7" stroke-width="1.15"/><path d="M2.6,-1.9 C1.5,-2.8 1.2,-4.2 1.2,-5.5 C1.2,-8 2.3,-10.6 4.0,-12.0" stroke-width="2.0"/><path d="M9.6,-12.3 C10.9,-11 11.6,-8.8 12.3,-6.4 C12.9,-4.2 13.3,-2.6 13.9,-1.6" stroke-width="1.8"/></g>
<path d="M247.10 137.39h14.4M247.10 143.09h14.4" stroke="#000" stroke-width="2.2" fill="none" stroke-linecap="butt"/>
<text transform="translate(262.35 147.69) scale(1 1.044)" font-size="28.80" fill="#000">2</text>
<text transform="translate(278.11 147.69) scale(1 1.044)" font-size="28.80" fill="#000">,</text>
<text transform="translate(286.19 147.69) scale(1 1.044)" font-size="28.80" fill="#000">S</text>
<text transform="translate(305.44 147.69) scale(1 1.044)" font-size="28.80" fill="#000">E</text>
<text transform="translate(323.09 147.69) scale(1 1.044)" font-size="28.80" fill="#000">S</text>
<path d="M359 0 L271 0 L271 505 L101 505 L101 567 C200 567 262 610 288 703 L359 703 Z" transform="translate(343.48 160.59) scale(0.02300 -0.02346)" fill="#000"/>
<text transform="translate(356.51 147.69) scale(1 1.044)" font-size="28.80" fill="#000">(</text>
<text transform="translate(363.86 147.69) scale(1 1.044)" font-size="28.80" fill="#000">t</text>
<text transform="translate(372.21 147.69) scale(1 1.044)" font-size="28.80" fill="#000">,</text>
<text transform="translate(381.19 147.69) scale(1 1.044)" font-size="28.80" fill="#000">q</text>
<text transform="translate(398.73 147.69) scale(1 1.044)" font-size="28.80" fill="#000">)</text>
<g transform="translate(227.7 195.98)" fill="none" stroke="#000" stroke-linecap="round" stroke-linejoin="round"><path d="M15.7,-11.7 C14.9,-7 11,-0.7 5.6,-0.7 C2.3,-0.7 1.0,-3 1.0,-5.5 C1.0,-9.5 3.9,-13.1 7.3,-13.1 C10.1,-13.1 11.3,-9.8 12.3,-6.4 C13.1,-3.4 13.6,-1.0 14.8,-1.0 C15.7,-1.0 16.2,-1.7 16.5,-2.7" stroke-width="1.15"/><path d="M2.6,-1.9 C1.5,-2.8 1.2,-4.2 1.2,-5.5 C1.2,-8 2.3,-10.6 4.0,-12.0" stroke-width="2.0"/><path d="M9.6,-12.3 C10.9,-11 11.6,-8.8 12.3,-6.4 C12.9,-4.2 13.3,-2.6 13.9,-1.6" stroke-width="1.8"/></g>
<path d="M247.10 185.68h14.4M247.10 191.38h14.4" stroke="#000" stroke-width="2.2" fill="none" stroke-linecap="butt"/>
<text transform="translate(262.45 195.98) scale(1 1.044)" font-size="28.80" fill="#000">2</text>
<text transform="translate(278.47 195.98) scale(1 1.044)" font-size="28.80" fill="#000">.</text>
<path d="M359 0 L271 0 L271 505 L101 505 L101 567 C200 567 262 610 288 703 L359 703 Z" transform="translate(285.99 195.98) scale(0.02880 -0.02938)" fill="#000"/>
<text transform="translate(301.81 195.98) scale(1 1.044)" font-size="28.80" fill="#000">,</text>
<text transform="translate(310.94 195.98) scale(1 1.044)" font-size="28.80" fill="#000">M</text>
<text transform="translate(336.04 195.98) scale(1 1.044)" font-size="28.80" fill="#000">E</text>
<text transform="translate(353.69 195.98) scale(1 1.044)" font-size="28.80" fill="#000">S</text>
<path d="M359 0 L271 0 L271 505 L101 505 L101 567 C200 567 262 610 288 703 L359 703 Z" transform="translate(374.08 208.88) scale(0.02300 -0.02346)" fill="#000"/>
<text transform="translate(387.11 195.98) scale(1 1.044)" font-size="28.80" fill="#000">(</text>
<text transform="translate(394.46 195.98) scale(1 1.044)" font-size="28.80" fill="#000">t</text>
<text transform="translate(402.81 195.98) scale(1 1.044)" font-size="28.80" fill="#000">,</text>
<text transform="translate(411.79 195.98) scale(1 1.044)" font-size="28.80" fill="#000">q</text>
<text transform="translate(429.33 195.98) scale(1 1.044)" font-size="28.80" fill="#000">)</text>
<g transform="translate(227.7 244.27)" fill="none" stroke="#000" stroke-linecap="round" stroke-linejoin="round"><path d="M15.7,-11.7 C14.9,-7 11,-0.7 5.6,-0.7 C2.3,-0.7 1.0,-3 1.0,-5.5 C1.0,-9.5 3.9,-13.1 7.3,-13.1 C10.1,-13.1 11.3,-9.8 12.3,-6.4 C13.1,-3.4 13.6,-1.0 14.8,-1.0 C15.7,-1.0 16.2,-1.7 16.5,-2.7" stroke-width="1.15"/><path d="M2.6,-1.9 C1.5,-2.8 1.2,-4.2 1.2,-5.5 C1.2,-8 2.3,-10.6 4.0,-12.0" stroke-width="2.0"/><path d="M9.6,-12.3 C10.9,-11 11.6,-8.8 12.3,-6.4 C12.9,-4.2 13.3,-2.6 13.9,-1.6" stroke-width="1.8"/></g>
<path d="M247.10 233.97h14.4M247.10 239.67h14.4" stroke="#000" stroke-width="2.2" fill="none" stroke-linecap="butt"/>
<text transform="translate(262.45 244.27) scale(1 1.044)" font-size="28.80" fill="#000">2</text>
<text transform="translate(278.47 244.27) scale(1 1.044)" font-size="28.80" fill="#000">.</text>
<path d="M359 0 L271 0 L271 505 L101 505 L101 567 C200 567 262 610 288 703 L359 703 Z" transform="translate(285.99 244.27) scale(0.02880 -0.02938)" fill="#000"/>
<text transform="translate(301.81 244.27) scale(1 1.044)" font-size="28.80" fill="#000">,</text>
<text transform="translate(311.19 244.27) scale(1 1.044)" font-size="28.80" fill="#000">S</text>
<text transform="translate(330.14 244.27) scale(1 1.044)" font-size="28.80" fill="#000">E</text>
<text transform="translate(347.69 244.27) scale(1 1.044)" font-size="28.80" fill="#000">S</text>
<path d="M359 0 L271 0 L271 505 L101 505 L101 567 C200 567 262 610 288 703 L359 703 Z" transform="translate(367.08 257.17) scale(0.02300 -0.02346)" fill="#000"/>
<text transform="translate(380.11 244.27) scale(1 1.044)" font-size="28.80" fill="#000">(</text>
<text transform="translate(387.46 244.27) scale(1 1.044)" font-size="28.80" fill="#000">t</text>
<text transform="translate(395.81 244.27) scale(1 1.044)" font-size="28.80" fill="#000">,</text>
<text transform="translate(404.79 244.27) scale(1 1.044)" font-size="28.80" fill="#000">q</text>
<text transform="translate(422.33 244.27) scale(1 1.044)" font-size="28.80" fill="#000">)</text>
<g transform="translate(227.7 292.56)" fill="none" stroke="#000" stroke-linecap="round" stroke-linejoin="round"><path d="M15.7,-11.7 C14.9,-7 11,-0.7 5.6,-0.7 C2.3,-0.7 1.0,-3 1.0,-5.5 C1.0,-9.5 3.9,-13.1 7.3,-13.1 C10.1,-13.1 11.3,-9.8 12.3,-6.4 C13.1,-3.4 13.6,-1.0 14.8,-1.0 C15.7,-1.0 16.2,-1.7 16.5,-2.7" stroke-width="1.15"/><path d="M2.6,-1.9 C1.5,-2.8 1.2,-4.2 1.2,-5.5 C1.2,-8 2.3,-10.6 4.0,-12.0" stroke-width="2.0"/><path d="M9.6,-12.3 C10.9,-11 11.6,-8.8 12.3,-6.4 C12.9,-4.2 13.3,-2.6 13.9,-1.6" stroke-width="1.8"/></g>
<path d="M247.10 282.26h14.4M247.10 287.96h14.4" stroke="#000" stroke-width="2.2" fill="none" stroke-linecap="butt"/>
<text transform="translate(262.45 292.56) scale(1 1.044)" font-size="28.80" fill="#000">2</text>
<text transform="translate(278.47 292.56) scale(1 1.044)" font-size="28.80" fill="#000">.</text>
<text transform="translate(285.99 292.56) scale(1 1.044)" font-size="28.80" fill="#000">2</text>
<text transform="translate(301.81 292.56) scale(1 1.044)" font-size="28.80" fill="#000">,</text>
<text transform="translate(310.94 292.56) scale(1 1.044)" font-size="28.80" fill="#000">M</text>
<text transform="translate(336.04 292.56) scale(1 1.044)" font-size="28.80" fill="#000">E</text>
<text transform="translate(353.69 292.56) scale(1 1.044)" font-size="28.80" fill="#000">S</text>
<path d="M359 0 L271 0 L271 505 L101 505 L101 567 C200 567 262 610 288 703 L359 703 Z" transform="translate(374.08 305.46) scale(0.02300 -0.02346)" fill="#000"/>
<text transform="translate(387.11 292.56) scale(1 1.044)" font-size="28.80" fill="#000">(</text>
<text transform="translate(394.46 292.56) scale(1 1.044)" font-size="28.80" fill="#000">t</text>
<text transform="translate(402.81 292.56) scale(1 1.044)" font-size="28.80" fill="#000">,</text>
<text transform="translate(411.79 292.56) scale(1 1.044)" font-size="28.80" fill="#000">q</text>
<text transform="translate(429.33 292.56) scale(1 1.044)" font-size="28.80" fill="#000">)</text>
<g transform="translate(227.7 340.85)" fill="none" stroke="#000" stroke-linecap="round" stroke-linejoin="round"><path d="M15.7,-11.7 C14.9,-7 11,-0.7 5.6,-0.7 C2.3,-0.7 1.0,-3 1.0,-5.5 C1.0,-9.5 3.9,-13.1 7.3,-13.1 C10.1,-13.1 11.3,-9.8 12.3,-6.4 C13.1,-3.4 13.6,-1.0 14.8,-1.0 C15.7,-1.0 16.2,-1.7 16.5,-2.7" stroke-width="1.15"/><path d="M2.6,-1.9 C1.5,-2.8 1.2,-4.2 1.2,-5.5 C1.2,-8 2.3,-10.6 4.0,-12.0" stroke-width="2.0"/><path d="M9.6,-12.3 C10.9,-11 11.6,-8.8 12.3,-6.4 C12.9,-4.2 13.3,-2.6 13.9,-1.6" stroke-width="1.8"/></g>
<path d="M247.10 330.55h14.4M247.10 336.25h14.4" stroke="#000" stroke-width="2.2" fill="none" stroke-linecap="butt"/>
<text transform="translate(262.45 340.85) scale(1 1.044)" font-size="28.80" fill="#000">2</text>
<text transform="translate(278.47 340.85) scale(1 1.044)" font-size="28.80" fill="#000">.</text>
<text transform="translate(285.99 340.85) scale(1 1.044)" font-size="28.80" fill="#000">2</text>
<text transform="translate(301.81 340.85) scale(1 1.044)" font-size="28.80" fill="#000">,</text>
<text transform="translate(311.19 340.85) scale(1 1.044)" font-size="28.80" fill="#000">S</text>
<text transform="translate(330.14 340.85) scale(1 1.044)" font-size="28.80" fill="#000">E</text>
<text transform="translate(347.69 340.85) scale(1 1.044)" font-size="28.80" fill="#000">S</text>
<path d="M359 0 L271 0 L271 505 L101 505 L101 567 C200 567 262 610 288 703 L359 703 Z" transform="translate(367.08 353.75) scale(0.02300 -0.02346)" fill="#000"/>
<text transform="translate(380.11 340.85) scale(1 1.044)" font-size="28.80" fill="#000">(</text>
<text transform="translate(387.46 340.85) scale(1 1.044)" font-size="28.80" fill="#000">t</text>
<text transform="translate(395.81 340.85) scale(1 1.044)" font-size="28.80" fill="#000">,</text>
<text transform="translate(404.79 340.85) scale(1 1.044)" font-size="28.80" fill="#000">q</text>
<text transform="translate(422.33 340.85) scale(1 1.044)" font-size="28.80" fill="#000">)</text>
<g transform="translate(227.7 389.14)" fill="none" stroke="#000" stroke-linecap="round" stroke-linejoin="round"><path d="M15.7,-11.7 C14.9,-7 11,-0.7 5.6,-0.7 C2.3,-0.7 1.0,-3 1.0,-5.5 C1.0,-9.5 3.9,-13.1 7.3,-13.1 C10.1,-13.1 11.3,-9.8 12.3,-6.4 C13.1,-3.4 13.6,-1.0 14.8,-1.0 C15.7,-1.0 16.2,-1.7 16.5,-2.7" stroke-width="1.15"/><path d="M2.6,-1.9 C1.5,-2.8 1.2,-4.2 1.2,-5.5 C1.2,-8 2.3,-10.6 4.0,-12.0" stroke-width="2.0"/><path d="M9.6,-12.3 C10.9,-11 11.6,-8.8 12.3,-6.4 C12.9,-4.2 13.3,-2.6 13.9,-1.6" stroke-width="1.8"/></g>
<path d="M247.10 378.84h14.4M247.10 384.54h14.4" stroke="#000" stroke-width="2.2" fill="none" stroke-linecap="butt"/>
<text transform="translate(262.45 389.14) scale(1 1.044)" font-size="28.80" fill="#000">2</text>
<text transform="translate(278.47 389.14) scale(1 1.044)" font-size="28.80" fill="#000">.</text>
<text transform="translate(285.99 389.14) scale(1 1.044)" font-size="28.80" fill="#000">3</text>
<text transform="translate(301.81 389.14) scale(1 1.044)" font-size="28.80" fill="#000">,</text>
<text transform="translate(310.94 389.14) scale(1 1.044)" font-size="28.80" fill="#000">M</text>
<text transform="translate(336.04 389.14) scale(1 1.044)" font-size="28.80" fill="#000">E</text>
<text transform="translate(353.69 389.14) scale(1 1.044)" font-size="28.80" fill="#000">S</text>
<path d="M359 0 L271 0 L271 505 L101 505 L101 567 C200 567 262 610 288 703 L359 703 Z" transform="translate(374.08 402.04) scale(0.02300 -0.02346)" fill="#000"/>
<text transform="translate(387.11 389.14) scale(1 1.044)" font-size="28.80" fill="#000">(</text>
<text transform="translate(394.46 389.14) scale(1 1.044)" font-size="28.80" fill="#000">t</text>
<text transform="translate(402.81 389.14) scale(1 1.044)" font-size="28.80" fill="#000">,</text>
<text transform="translate(411.79 389.14) scale(1 1.044)" font-size="28.80" fill="#000">q</text>
<text transform="translate(429.33 389.14) scale(1 1.044)" font-size="28.80" fill="#000">)</text>
<g transform="translate(227.7 437.43)" fill="none" stroke="#000" stroke-linecap="round" stroke-linejoin="round"><path d="M15.7,-11.7 C14.9,-7 11,-0.7 5.6,-0.7 C2.3,-0.7 1.0,-3 1.0,-5.5 C1.0,-9.5 3.9,-13.1 7.3,-13.1 C10.1,-13.1 11.3,-9.8 12.3,-6.4 C13.1,-3.4 13.6,-1.0 14.8,-1.0 C15.7,-1.0 16.2,-1.7 16.5,-2.7" stroke-width="1.15"/><path d="M2.6,-1.9 C1.5,-2.8 1.2,-4.2 1.2,-5.5 C1.2,-8 2.3,-10.6 4.0,-12.0" stroke-width="2.0"/><path d="M9.6,-12.3 C10.9,-11 11.6,-8.8 12.3,-6.4 C12.9,-4.2 13.3,-2.6 13.9,-1.6" stroke-width="1.8"/></g>
<path d="M247.10 427.13h14.4M247.10 432.83h14.4" stroke="#000" stroke-width="2.2" fill="none" stroke-linecap="butt"/>
<text transform="translate(262.45 437.43) scale(1 1.044)" font-size="28.80" fill="#000">2</text>
<text transform="translate(278.47 437.43) scale(1 1.044)" font-size="28.80" fill="#000">.</text>
<text transform="translate(285.99 437.43) scale(1 1.044)" font-size="28.80" fill="#000">3</text>
<text transform="translate(301.81 437.43) scale(1 1.044)" font-size="28.80" fill="#000">,</text>
<text transform="translate(311.19 437.43) scale(1 1.044)" font-size="28.80" fill="#000">S</text>
<text transform="translate(330.14 437.43) scale(1 1.044)" font-size="28.80" fill="#000">E</text>
<text transform="translate(347.69 437.43) scale(1 1.044)" font-size="28.80" fill="#000">S</text>
<path d="M359 0 L271 0 L271 505 L101 505 L101 567 C200 567 262 610 288 703 L359 703 Z" transform="translate(367.08 450.33) scale(0.02300 -0.02346)" fill="#000"/>
<text transform="translate(380.11 437.43) scale(1 1.044)" font-size="28.80" fill="#000">(</text>
<text transform="translate(387.46 437.43) scale(1 1.044)" font-size="28.80" fill="#000">t</text>
<text transform="translate(395.81 437.43) scale(1 1.044)" font-size="28.80" fill="#000">,</text>
<text transform="translate(404.79 437.43) scale(1 1.044)" font-size="28.80" fill="#000">q</text>
<text transform="translate(422.33 437.43) scale(1 1.044)" font-size="28.80" fill="#000">)</text>
</g>
</g>
</svg></body></html>
